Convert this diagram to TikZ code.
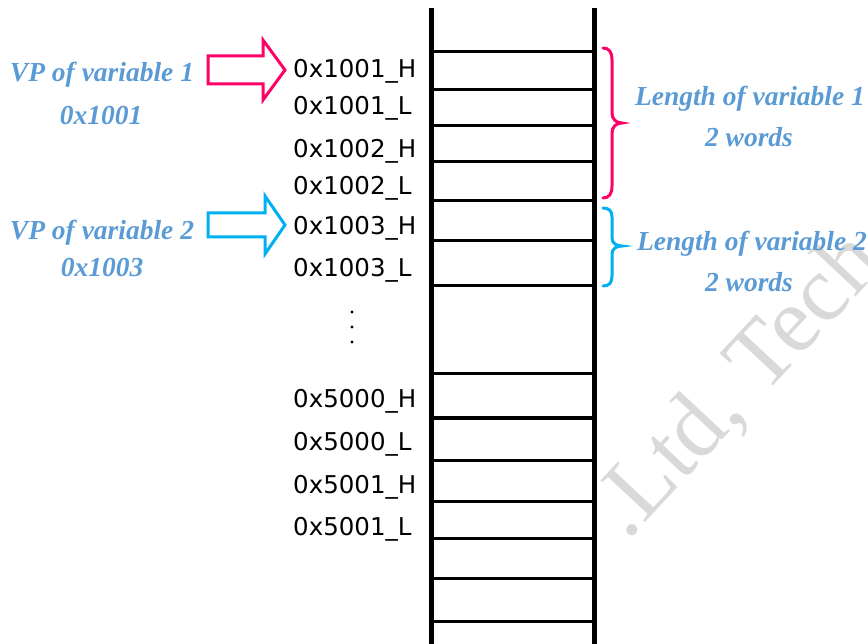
\documentclass[tikz,border=0pt]{standalone}
\usepackage{fontspec}
\setmainfont{Liberation Serif}
\newfontfamily\addrfont{DejaVu Sans}
\definecolor{notecol}{RGB}{91,155,213}
\definecolor{pinkcol}{RGB}{255,0,102}
\definecolor{cyancol}{RGB}{0,176,240}
\definecolor{markgray}{RGB}{217,217,217}
\begin{document}
\begin{tikzpicture}[x=1pt,y=-1pt,
  addr/.style={font=\addrfont\fontsize{24.5}{28}\selectfont, anchor=base west, inner sep=0},
  note/.style={font=\fontsize{27.5}{32}\selectfont\bfseries\itshape, text=notecol, inner sep=0, anchor=base},
  rail/.style={line width=5pt},
  rung/.style={line width=3pt},
  ptr/.style={line width=3pt, fill=white, line join=miter},
  bracepath/.style={line width=3pt, line cap=round}
]
\useasboundingbox (0,0) rectangle (868,644);
\clip (0,0) rectangle (868,644);

% faint watermark behind everything
\node[font=\fontsize{93}{93}\selectfont, text=markgray, rotate=47,
      anchor=base west, inner sep=0] (wm) at (627.5,541.7) {.Ltd, Tech};

% the two rails of the memory column
\coordinate (railLt) at (431,8);  \coordinate (railLb) at (431,644);
\coordinate (railRt) at (594,8);  \coordinate (railRb) at (594,644);
\draw[rail] (railLt) -- (railLb);
\draw[rail] (railRt) -- (railRb);

% word boundaries
\foreach \yy in {52,90,126,162,201,241,286,374,418,460,501,538,578,621}
  \draw[rung] (431,\yy) -- (594,\yy);

% address labels
\node[addr] (a1h) at (293,78)  {0x1001\_H};
\node[addr] (a1l) at (293,115) {0x1001\_L};
\node[addr] (a2h) at (293,158) {0x1002\_H};
\node[addr] (a2l) at (293,195) {0x1002\_L};
\node[addr] (a3h) at (293,235) {0x1003\_H};
\node[addr] (a3l) at (293,277) {0x1003\_L};
\node[addr] (b0h) at (293,407) {0x5000\_H};
\node[addr] (b0l) at (293,450) {0x5000\_L};
\node[addr] (b1h) at (293,493) {0x5001\_H};
\node[addr] (b1l) at (293,535) {0x5001\_L};

% vertical ellipsis
\foreach \yy in {312,327,342}
  \fill (352,\yy) circle (1.6);

% variable pointers
\node[note] (vp1) at (102,82)  {VP of variable 1};
\node[note] (vp1a) at (101,125) {0x1001};
\node[note] (vp2) at (102,240) {VP of variable 2};
\node[note] (vp2a) at (102,277) {0x1003};

\draw[ptr, draw=pinkcol] (208,56) -- (263,56) -- (263,40) -- (285,70)
  -- (263,100) -- (263,84) -- (208,84) -- cycle;
\draw[ptr, draw=cyancol] (208,213) -- (265,213) -- (265,196) -- (285,225)
  -- (265,254) -- (265,237) -- (208,237) -- cycle;

% length braces
\draw[bracepath, pinkcol] (603,48) .. controls (609,48) and (612,52) .. (612,60)
  -- (612,113) .. controls (612,119) and (616,123) .. (622,123)
  .. controls (616,123) and (612,127) .. (612,133)
  -- (612,186) .. controls (612,194) and (609,198) .. (603,198);
\draw[bracepath, cyancol] (603,208) .. controls (609,208) and (612,211) .. (612,217)
  -- (612,238) .. controls (612,243) and (616,246) .. (622,246)
  .. controls (616,246) and (612,249) .. (612,254)
  -- (612,276) .. controls (612,283) and (609,286) .. (603,286);

\node[note] (len1) at (750,106) {Length of variable 1};
\node[note] (len1w) at (749,147) {2 words};
\node[note] (len2) at (752,251) {Length of variable 2};
\node[note] (len2w) at (749,292) {2 words};
\end{tikzpicture}
\end{document}
